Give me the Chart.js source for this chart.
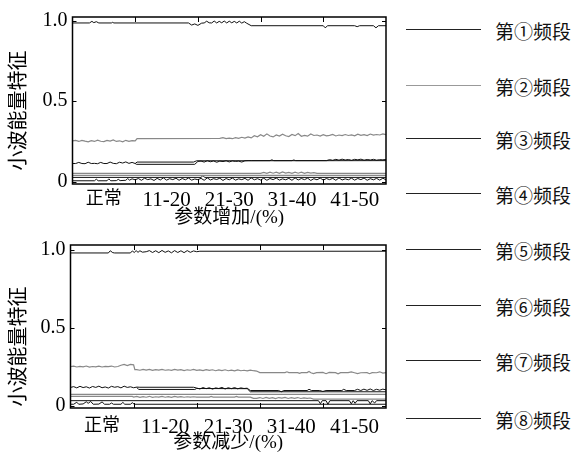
<!DOCTYPE html>
<html lang="zh">
<head>
<meta charset="utf-8">
<title>小波能量特征</title>
<script src="https://cdn.jsdelivr.net/npm/chart.js@4.4.0/dist/chart.umd.min.js"></script>
<style>
  html, body { margin: 0; padding: 0; background: #fff; }
  #wrap { position: relative; width: 574px; height: 457px; overflow: hidden; }
  canvas { position: absolute; left: 0; }
  #top { top: 0; }
  #bottom { top: 228px; }
  .key { position: absolute; left: 406px; width: 168px; height: 24px; }
  .key .line { position: absolute; left: 0; top: 11px; width: 75px; height: 0; border-top: 1.3px solid #222; }
  .key .txt { position: absolute; left: 89px; top: 1px; font: 19px "Noto Sans CJK SC", sans-serif; line-height: 24px; color: #111; white-space: nowrap; }
</style>
</head>
<body>
<div id="wrap">
  <canvas id="top" width="395" height="230"></canvas>
  <canvas id="bottom" width="395" height="229"></canvas>
</div>
<script>
// 横轴分段
const categories = ['正常', '11-20', '21-30', '31-40', '41-50'];
const yTickValues = [0, 0.5, 1.0];
const yTickLabels = ['0', '0.5', '1.0'];
const bandLabels = ['第①频段', '第②频段', '第③频段', '第④频段', '第⑤频段', '第⑥频段', '第⑦频段', '第⑧频段'];

// evenly spaced readings: x0, dx
function run(x0, dx, ys) {
  return ys.map((y, i) => [+(x0 + i * dx).toFixed(3), y]);
}

// ---- 参数增加 ----
const incBand1 = [
  [0, 0.985], [0.27, 0.985], [0.31, 0.995], [0.34, 0.987], [0.38, 0.993], [0.42, 0.985], [0.62, 0.985], [0.64, 0.989], [0.66, 0.985],
  [1.85, 0.985], [1.9, 0.972], [1.95, 0.979], [2.0, 0.97], [2.06, 0.984],
  ...run(2.1, 0.04, [0.985, 0.996, 0.986, 0.985, 0.997, 0.985, 0.995, 0.986, 0.997, 0.985, 0.996, 0.986, 0.995, 0.985, 0.996, 0.984, 0.993, 0.983]),
  [2.85, 0.968], [4.0, 0.968], [4.03, 0.955], [4.07, 0.968], [4.5, 0.968], [4.54, 0.962], [4.58, 0.968],
  [4.8, 0.968], [4.84, 0.955], [4.88, 0.968], [5, 0.968]
];
const incBand2 = [
  ...run(0, 0.05, [0.253, 0.256, 0.250, 0.257, 0.252, 0.248, 0.255, 0.250, 0.258, 0.251, 0.249, 0.256, 0.252, 0.259, 0.250, 0.254, 0.248, 0.257, 0.251, 0.255, 0.253]),
  [1.03, 0.268], [2.35, 0.269],
  ...run(2.4, 0.05, [0.273, 0.268, 0.271, 0.267, 0.274, 0.269, 0.276, 0.271, 0.278, 0.272]),
  ...run(2.9, 0.05, [0.286, 0.279, 0.292, 0.282, 0.297, 0.284, 0.278, 0.29, 0.283, 0.295,
    0.285, 0.28, 0.293, 0.286, 0.299, 0.282, 0.288, 0.283, 0.296, 0.287,
    0.29, 0.283, 0.292, 0.285, 0.288, 0.294, 0.284, 0.29, 0.286, 0.293,
    0.287, 0.291, 0.285, 0.295, 0.288, 0.292, 0.286, 0.296, 0.289, 0.293,
    0.29, 0.297, 0.292])
];
const incBand3 = [
  ...run(0, 0.05, [0.113, 0.113, 0.12, 0.113, 0.112, 0.121, 0.113, 0.114, 0.112, 0.12, 0.113, 0.113, 0.122, 0.114, 0.112, 0.121, 0.116, 0.123, 0.114, 0.12, 0.113]),
  [1.02, 0.108], [1.95, 0.108], [2.0, 0.126],
  ...run(2.05, 0.05, [0.128, 0.122, 0.13, 0.124, 0.129, 0.121, 0.128, 0.125, 0.13, 0.123, 0.129, 0.126, 0.128, 0.122, 0.13, 0.131]),
  [2.85, 0.131], [3.15, 0.131], [3.18, 0.136], [3.21, 0.131], [3.5, 0.131], [3.53, 0.135], [3.56, 0.131], [4.05, 0.131],
  ...run(4.1, 0.05, [0.137, 0.133, 0.139, 0.134, 0.14, 0.135, 0.138, 0.133, 0.139, 0.136, 0.14, 0.134, 0.138, 0.135, 0.139, 0.134, 0.137, 0.136, 0.138])
];
const incBand4 = [[1.0, 0.113], [1.03, 0.122], [1.93, 0.122], [1.98, 0.13], [5, 0.131]];
const incBand5 = [
  [0, 0.052], [3.0, 0.052],
  ...run(3.05, 0.05, [0.058, 0.052, 0.06, 0.053, 0.059, 0.052, 0.061, 0.054, 0.058, 0.052, 0.06, 0.053, 0.059, 0.052, 0.058, 0.053, 0.057, 0.052]),
  [3.95, 0.052], [5, 0.052]
];
const incBand6 = [[0, 0.04], [5, 0.04]];
const incBand7 = [[0, 0.027], [2.05, 0.027], [2.08, 0.038], [2.11, 0.027], [5, 0.027]];
const incBand8 = [
  [0, 0.006], [0.35, 0.006], [0.38, 0.016], [0.41, 0.006], [0.55, 0.006], [0.58, 0.018], [0.61, 0.006],
  [0.7, 0.007], [0.73, 0.015], [0.76, 0.007], [0.85, 0.009], [0.88, 0.02], [0.91, 0.01], [0.95, 0.018],
  ...run(1.0, 0.05, [
    0.012, 0.02, 0.009, 0.022, 0.013, 0.018, 0.008, 0.021, 0.011, 0.024, 0.01, 0.019, 0.013, 0.022, 0.009, 0.02, 0.012, 0.023, 0.01, 0.017,
    0.013, 0.021, 0.009, 0.024, 0.011, 0.019, 0.014, 0.022, 0.008, 0.02, 0.012, 0.023, 0.01, 0.018, 0.013, 0.021, 0.009, 0.024, 0.012, 0.019,
    0.011, 0.022, 0.009, 0.02, 0.013, 0.023, 0.01, 0.018, 0.012, 0.021, 0.009, 0.024, 0.011, 0.02, 0.013, 0.022, 0.008, 0.019, 0.012, 0.023,
    0.01, 0.02, 0.013, 0.021, 0.009, 0.024, 0.011, 0.018, 0.012, 0.022, 0.01, 0.02, 0.013, 0.023, 0.009, 0.019, 0.012, 0.021, 0.01, 0.022, 0.012])
];

// ---- 参数减少 ----
const decBand1 = [
  [0, 0.982], [0.6, 0.982], [0.63, 0.996], [0.67, 0.984], [0.7, 0.982], [0.95, 0.982], [0.98, 0.995], [1.01, 0.985],
  [1.04, 0.997], [1.07, 0.986], [1.1, 0.996], [1.14, 0.987], [1.2, 0.99],
  ...run(1.25, 0.05, [0.997, 0.985, 0.996, 0.984, 0.998, 0.986, 0.995, 0.983, 0.997, 0.985, 0.996, 0.984, 0.997, 0.986, 0.995, 0.99]),
  [2.05, 0.993], [5, 0.993]
];
const decBand2 = [
  ...run(0, 0.05, [0.253, 0.256, 0.251, 0.255, 0.252, 0.257, 0.25, 0.254, 0.252, 0.256, 0.251, 0.255, 0.253, 0.257, 0.251, 0.254]),
  ...run(0.8, 0.05, [0.262, 0.267, 0.26, 0.268]),
  [1.0, 0.265], [1.02, 0.234],
  ...run(1.05, 0.05, [0.234, 0.23, 0.236, 0.231, 0.235, 0.229, 0.234, 0.231, 0.236, 0.23, 0.233, 0.229, 0.235, 0.231, 0.234, 0.228, 0.233, 0.23, 0.235, 0.229,
    0.232, 0.228, 0.234, 0.229, 0.233, 0.227, 0.232, 0.228, 0.233, 0.227, 0.231, 0.226, 0.232, 0.227, 0.23, 0.226, 0.231, 0.227, 0.225]),
  [3.0, 0.215], [3.4, 0.215], [3.43, 0.22], [3.46, 0.215], [3.6, 0.215], [3.63, 0.21], [3.66, 0.215], [3.75, 0.215],
  [3.78, 0.222], [3.81, 0.214], [3.85, 0.208], [3.9, 0.215], [4.0, 0.216], [4.05, 0.208], [4.1, 0.216], [4.2, 0.215],
  [4.24, 0.207], [4.28, 0.215], [4.4, 0.215], [4.45, 0.22], [4.5, 0.214], [4.55, 0.208], [4.6, 0.214], [4.7, 0.215],
  [4.74, 0.208], [4.78, 0.215], [4.85, 0.214], [4.9, 0.22], [4.95, 0.212], [5, 0.215]
];
const decBand3 = [
  ...run(0, 0.05, [0.12, 0.125, 0.117, 0.127, 0.119, 0.124, 0.116, 0.126, 0.12, 0.128, 0.118, 0.123, 0.116, 0.127, 0.121, 0.125, 0.117, 0.128, 0.12, 0.124, 0.118, 0.122]),
  [1.1, 0.121], [1.95, 0.121],
  ...run(2.0, 0.05, [0.116, 0.11, 0.119, 0.112, 0.118, 0.109, 0.117, 0.113, 0.12, 0.11, 0.118, 0.112, 0.119, 0.111, 0.117, 0.113, 0.115]),
  [2.85, 0.1], [3.3, 0.1], [3.34, 0.092], [3.38, 0.1], [3.75, 0.1], [3.78, 0.108], [3.82, 0.1], [3.95, 0.1],
  [4.0, 0.094], [4.05, 0.1], [4.3, 0.1], [4.33, 0.108], [4.37, 0.1], [4.5, 0.1],
  ...run(4.55, 0.05, [0.108, 0.1, 0.109, 0.101, 0.11, 0.1, 0.108, 0.102, 0.109, 0.104])
];
const decBand4 = [[1.05, 0.12], [1.08, 0.107], [1.97, 0.107], [2.0, 0.113], [2.8, 0.112], [2.85, 0.092], [5, 0.092]];
const decBand5 = [[0, 0.075], [5, 0.075]];
const decBand6 = [
  [0, 0.062], [0.98, 0.062],
  ...run(1.0, 0.05, [0.058, 0.062, 0.056, 0.061, 0.057, 0.063, 0.056, 0.06, 0.058, 0.062, 0.057, 0.061, 0.056, 0.062, 0.058, 0.061, 0.057, 0.06, 0.058, 0.06]),
  [2.0, 0.058], [2.2, 0.058], [2.23, 0.062], [2.26, 0.058], [2.6, 0.058], [2.63, 0.062], [2.66, 0.058], [2.85, 0.058], [2.9, 0.05],
  ...run(2.95, 0.05, [0.05, 0.055, 0.049, 0.056, 0.05, 0.054, 0.048, 0.055, 0.051, 0.056, 0.049, 0.054, 0.05, 0.055, 0.049, 0.053, 0.05, 0.052]),
  [3.85, 0.045], [5, 0.045]
];
const decBand7 = [
  [0, 0.035], [3.93, 0.035], [3.96, 0.015], [3.99, 0.035], [4.05, 0.035], [4.08, 0.012], [4.11, 0.035],
  [4.42, 0.035], [4.45, 0.015], [4.48, 0.035], [4.51, 0.018], [4.54, 0.035], [4.72, 0.035], [4.75, 0.014],
  [4.78, 0.035], [4.82, 0.02], [4.85, 0.035], [5, 0.035]
];
const decBand8 = [
  [0, 0.012], [0.05, 0.012], [0.1, 0.025], [0.13, 0.012], [0.2, 0.014], [0.25, 0.028], [0.28, 0.018], [0.32, 0.03],
  [0.36, 0.012], [0.45, 0.013], [0.5, 0.027], [0.54, 0.012], [0.62, 0.012], [0.65, 0.02], [0.68, 0.012],
  [0.8, 0.012], [0.83, 0.024], [0.86, 0.012], [0.95, 0.012], [0.98, 0.022], [1.01, 0.012], [5, 0.012]
];

const BLACK = '#111';
const GRAY = '#888';
const FONT = '"Liberation Serif", "Noto Sans CJK SC", serif';

// box + inward ticks
const framePlugin = {
  id: 'frame',
  afterDatasetsDraw(chart) {
    const { ctx, chartArea: a, scales: { x, y } } = chart;
    ctx.save();
    ctx.strokeStyle = '#000';
    ctx.lineWidth = 1.5;
    ctx.strokeRect(a.left, a.top, a.right - a.left, a.bottom - a.top);
    ctx.lineWidth = 1;
    ctx.beginPath();
    for (let i = 1; i < categories.length; i++) {
      const px = Math.round(x.getPixelForValue(i)) + 0.5;
      ctx.moveTo(px, a.top); ctx.lineTo(px, a.top + 5);
      ctx.moveTo(px, a.bottom); ctx.lineTo(px, a.bottom - 5);
    }
    for (const v of yTickValues) {
      const py = Math.round(y.getPixelForValue(v)) + 0.5;
      ctx.moveTo(a.left, py); ctx.lineTo(a.left + 4, py);
      ctx.moveTo(a.right, py); ctx.lineTo(a.right - 4, py);
    }
    ctx.stroke();
    ctx.restore();
  }
};

function makePanel(id, series, xTitle, yTitle, g) {
  const ctx = document.getElementById(id).getContext('2d');
  return new Chart(ctx, {
    type: 'line',
    data: {
      datasets: series.map(s => ({
        data: s.data.map(([x, y]) => ({ x, y })),
        borderColor: s.color,
        borderWidth: s.color === GRAY ? 1.2 : 1,
        pointRadius: 0,
        tension: 0,
        fill: false
      }))
    },
    options: {
      responsive: false,
      animation: false,
      devicePixelRatio: 1,
      layout: { padding: { top: g.top, right: g.right, left: 0, bottom: 0 } },
      plugins: { legend: { display: false }, tooltip: { enabled: false } },
      scales: {
        x: {
          type: 'linear',
          min: 0,
          max: categories.length,
          grid: { display: false, drawTicks: false },
          border: { display: false },
          afterBuildTicks: s => { s.ticks = categories.map((c, i) => ({ value: i + 0.5 })); },
          afterFit: s => { s.height = g.xHeight; },
          ticks: {
            callback: (v, i) => categories[i],
            color: '#000',
            padding: g.xPad,
            maxRotation: 0,
            autoSkip: false,
            // 中文标签略小, 数字略大
            font: c => ({ family: FONT, size: c.index === 0 ? 18 : 21 })
          },
          title: {
            display: true,
            text: xTitle,
            color: '#000',
            font: { family: FONT, size: 19 },
            padding: { top: 0, bottom: g.xTitlePad }
          }
        },
        y: {
          type: 'linear',
          min: g.yMin,
          max: g.yMax,
          grid: { display: false, drawTicks: false },
          border: { display: false },
          afterBuildTicks: s => { s.ticks = yTickValues.map(v => ({ value: v })); },
          afterFit: s => { s.width = g.yWidth; },
          ticks: {
            callback: (v, i) => yTickLabels[i],
            color: '#000',
            padding: 5,
            font: { family: FONT, size: 20 }
          },
          title: {
            display: true,
            text: yTitle,
            color: '#000',
            font: { family: FONT, size: 20 },
            padding: { top: 8, bottom: 0 }
          }
        }
      }
    },
    plugins: [framePlugin]
  });
}

makePanel('top', [
  { data: incBand2, color: GRAY },
  { data: incBand5, color: GRAY },
  { data: incBand6, color: GRAY },
  { data: incBand1, color: BLACK },
  { data: incBand3, color: BLACK },
  { data: incBand4, color: BLACK },
  { data: incBand7, color: BLACK },
  { data: incBand8, color: BLACK }
], '参数增加/(%)', '小波能量特征\u3000', {
  top: 13, right: 9, yWidth: 72.5, xHeight: 46, xPad: 4, xTitlePad: 1, yMin: -0.014, yMax: 1.022
});

makePanel('bottom', [
  { data: decBand2, color: GRAY },
  { data: decBand5, color: GRAY },
  { data: decBand6, color: GRAY },
  { data: decBand1, color: BLACK },
  { data: decBand3, color: BLACK },
  { data: decBand4, color: BLACK },
  { data: decBand7, color: BLACK },
  { data: decBand8, color: BLACK }
], '参数减少/(%)', '小波能量特征\u3000\u3000', {
  top: 7, right: 9, yWidth: 70.5, xHeight: 49, xPad: 7, xTitlePad: 3, yMin: -0.012, yMax: 1.033
});

// 右侧频段标注
const keyLineY = [29, 85, 138, 193, 249, 305, 360, 418];
const wrap = document.getElementById('wrap');
bandLabels.forEach((label, i) => {
  const key = document.createElement('div');
  key.className = 'key';
  key.style.top = (keyLineY[i] - 11) + 'px';
  const line = document.createElement('span');
  line.className = 'line';
  if (i === 1) line.style.borderTopColor = '#999';
  const txt = document.createElement('span');
  txt.className = 'txt';
  txt.textContent = label;
  key.appendChild(line);
  key.appendChild(txt);
  wrap.appendChild(key);
});
</script>
</body>
</html>
